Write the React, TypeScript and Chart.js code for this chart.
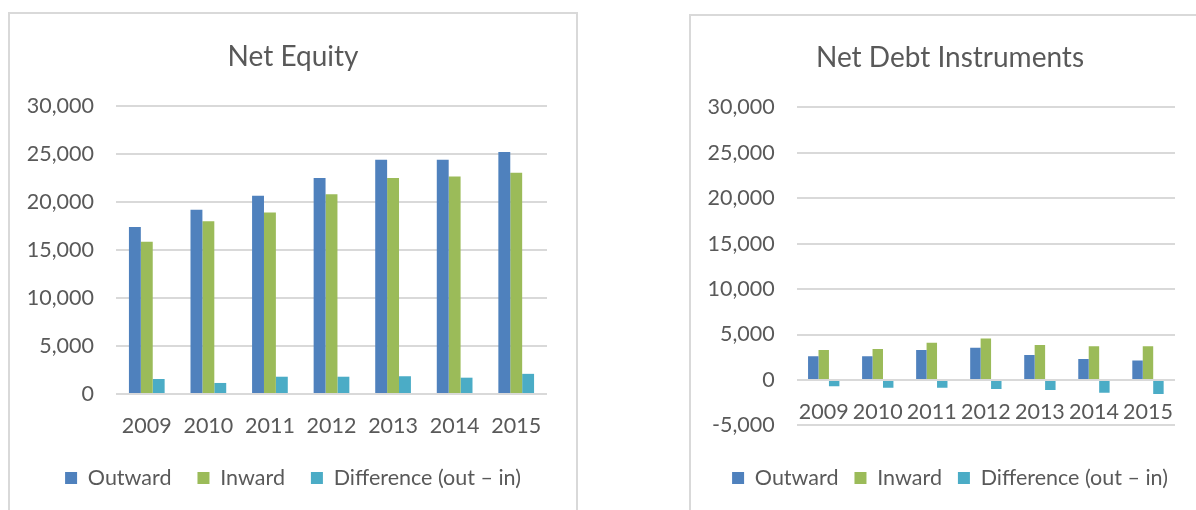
import React, { useEffect, useRef } from "react";
import { Chart, registerables } from "chart.js";

Chart.register(...registerables);

// ---- data ----
const YEARS = ["2009", "2010", "2011", "2012", "2013", "2014", "2015"];

const EQUITY_OUTWARD = [17400, 19200, 20650, 22500, 24400, 24400, 25200];
const EQUITY_INWARD = [15850, 18000, 18900, 20800, 22500, 22650, 23050];
const EQUITY_DIFF = [1560, 1150, 1800, 1800, 1850, 1700, 2100];

const DEBT_OUTWARD = [2600, 2600, 3300, 3550, 2750, 2300, 2150];
const DEBT_INWARD = [3300, 3400, 4100, 4550, 3850, 3700, 3700];
const DEBT_DIFF = [-700, -850, -850, -1000, -1100, -1400, -1550];

const SERIES_NAMES = ["Outward", "Inward", "Difference (out \u2013 in)"];
const SERIES_COLORS = ["#4F81BD", "#9BBB59", "#4BACC6"];

const FONT = "Lato";
const TEXT = "#595959";
const GRID = "#d9d9d9";

function fmt(v: any) {
  return Number(v).toLocaleString("en-US");
}

function makeDatasets(values: number[][]) {
  return values.map((d, i) => ({
    label: SERIES_NAMES[i],
    data: d,
    backgroundColor: SERIES_COLORS[i],
    borderWidth: 0,
    categoryPercentage: 0.58,
    barPercentage: 1,
  }));
}

function useChart(ref: any, config: any) {
  useEffect(() => {
    const chart = new Chart(ref.current, config);
    return () => chart.destroy();
  }, []);
}

function EquityChart() {
  const ref = useRef<HTMLCanvasElement>(null);
  useChart(ref, {
    type: "bar",
    data: {
      labels: YEARS,
      datasets: makeDatasets([EQUITY_OUTWARD, EQUITY_INWARD, EQUITY_DIFF]),
    },
    options: {
      animation: false,
      responsive: false,
      maintainAspectRatio: false,
      layout: { padding: { left: 0, right: 0, top: 0, bottom: 11.25 } },
      plugins: {
        title: {
          display: true,
          text: "Net Equity",
          color: TEXT,
          font: { family: FONT, size: 28, weight: "normal" },
          padding: { top: 26, bottom: 32.4 },
        },
        legend: {
          position: "bottom",
          labels: {
            boxWidth: 12,
            boxHeight: 12,
            padding: 26,
            color: TEXT,
            font: { family: FONT, size: 21.5 },
          },
        },
        tooltip: { enabled: false },
      },
      scales: {
        x: {
          grid: { display: false },
          border: { display: false },
          ticks: {
            color: TEXT,
            font: { family: FONT, size: 21.5 },
            padding: 11,
            maxRotation: 0,
            autoSkip: false,
          },
          afterFit: (s: any) => {
            s.height = 47.25;
          },
        },
        y: {
          min: 0,
          max: 30000,
          ticks: {
            stepSize: 5000,
            padding: 22,
            color: TEXT,
            font: { family: FONT, size: 21.5 },
            callback: fmt,
          },
          grid: { color: GRID, lineWidth: 2, drawTicks: false },
          border: { display: false },
          afterFit: (s: any) => {
            s.width = 106;
          },
        },
        y2: {
          position: "right",
          grid: { display: false },
          border: { display: false },
          ticks: { display: false },
          afterFit: (s: any) => {
            s.width = 29;
          },
        },
      },
    },
  });
  return <canvas ref={ref} width={566} height={496} style={{ display: "block" }} />;
}

function DebtChart() {
  const ref = useRef<HTMLCanvasElement>(null);
  useChart(ref, {
    type: "bar",
    data: {
      labels: YEARS,
      datasets: makeDatasets([DEBT_OUTWARD, DEBT_INWARD, DEBT_DIFF]),
    },
    options: {
      animation: false,
      responsive: false,
      maintainAspectRatio: false,
      layout: { padding: { left: 0, right: 0, top: 0, bottom: 11.25 } },
      plugins: {
        title: {
          display: true,
          text: "Net Debt Instruments",
          color: TEXT,
          font: { family: FONT, size: 28, weight: "normal" },
          padding: { top: 25, bottom: 32.7 },
        },
        legend: {
          position: "bottom",
          labels: {
            boxWidth: 12,
            boxHeight: 12,
            padding: 16,
            color: TEXT,
            font: { family: FONT, size: 21.5 },
          },
        },
        tooltip: { enabled: false },
      },
      scales: {
        x: {
          position: { y: 0 },
          grid: { display: false },
          border: { display: false },
          ticks: {
            color: TEXT,
            font: { family: FONT, size: 21.5 },
            padding: 11,
            maxRotation: 0,
            autoSkip: false,
          },
        },
        xpad: {
          type: "category",
          position: "bottom",
          grid: { display: false },
          border: { display: false },
          ticks: { display: false },
          afterFit: (s: any) => {
            s.height = 25.85;
          },
        },
        y: {
          min: -5000,
          max: 30000,
          ticks: {
            stepSize: 5000,
            padding: 22,
            color: TEXT,
            font: { family: FONT, size: 21.5 },
            callback: fmt,
          },
          grid: { color: GRID, lineWidth: 2, drawTicks: false },
          border: { display: false },
          afterFit: (s: any) => {
            s.width = 105.7;
          },
        },
        y2: {
          position: "right",
          grid: { display: false },
          border: { display: false },
          ticks: { display: false },
          afterFit: (s: any) => {
            s.width = 34;
          },
        },
      },
    },
  });
  return <canvas ref={ref} width={518} height={494} style={{ display: "block" }} />;
}

export default function App() {
  return (
    <div
      style={{
        position: "absolute",
        left: 0,
        top: 0,
        width: 1196,
        height: 510,
        overflow: "hidden",
        background: "#ffffff",
      }}
    >
      <div
        style={{
          position: "absolute",
          left: 8,
          top: 12,
          border: "2px solid #d9d9d9",
          background: "#ffffff",
        }}
      >
        <EquityChart />
      </div>
      <div
        style={{
          position: "absolute",
          left: 689,
          top: 14,
          border: "2px solid #d9d9d9",
          background: "#ffffff",
        }}
      >
        <DebtChart />
      </div>
    </div>
  );
}
